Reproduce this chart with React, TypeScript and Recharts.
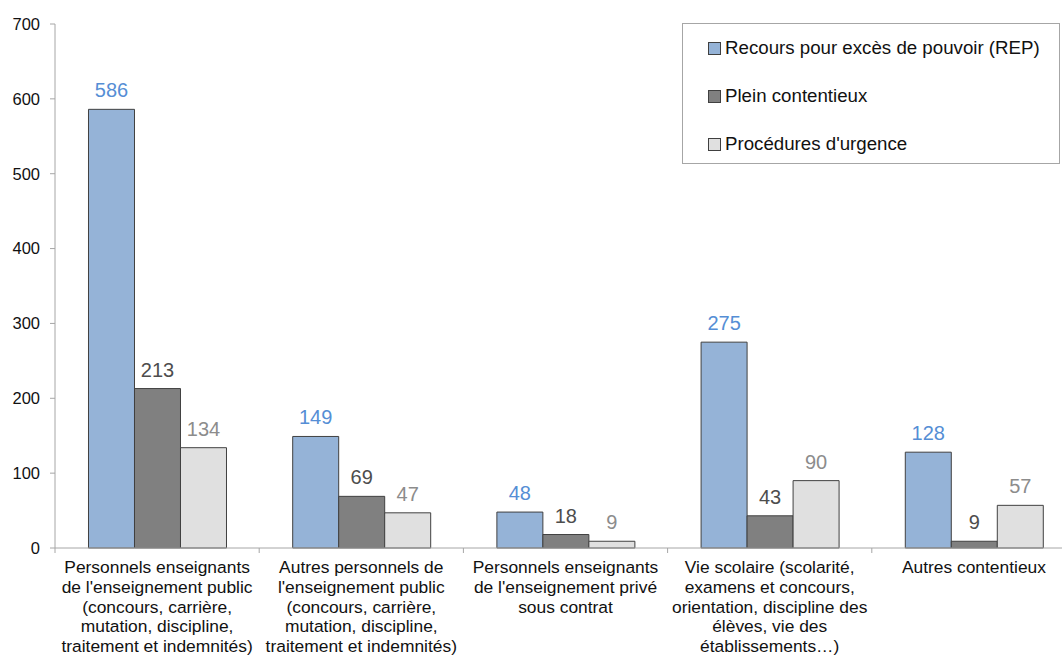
import { Bar, BarChart, LabelList, Legend, XAxis, YAxis } from 'recharts';

const categories = [
  "Personnels enseignants\nde l'enseignement public\n(concours, carrière,\nmutation, discipline,\ntraitement et indemnités)",
  "Autres personnels de\nl'enseignement public\n(concours, carrière,\nmutation, discipline,\ntraitement et indemnités)",
  "Personnels enseignants\nde l'enseignement privé\nsous contrat",
  'Vie scolaire (scolarité,\nexamens et concours,\norientation, discipline des\nélèves, vie des\nétablissements…)',
  'Autres contentieux',
];
const rep = [586, 149, 48, 275, 128];
const plein = [213, 69, 18, 43, 9];
const urgence = [134, 47, 9, 90, 57];
const yTicks = [0, 100, 200, 300, 400, 500, 600, 700];

const series = [
  { key: 'rep', name: 'Recours pour excès de pouvoir (REP)', fill: '#95B3D7', label: '#558ED5' },
  { key: 'plein', name: 'Plein contentieux', fill: '#808080', label: '#4D4D4D' },
  { key: 'urgence', name: "Procédures d'urgence", fill: '#E0E0E0', label: '#8C8C8C' },
];

const data = categories.map((name, i) => ({
  name,
  rep: rep[i],
  plein: plein[i],
  urgence: urgence[i],
}));

const FONT = '"Liberation Sans", Arial, sans-serif';

function CategoryTick(props: any) {
  const { x, y, payload } = props;
  const half = payload.offset ?? 102;
  const lines = String(payload.value).split('\n');
  return (
    <g>
      <line x1={x - half} y1={y} x2={x - half} y2={y + 5} stroke="#A6A6A6" />
      <text textAnchor="middle" fontSize={17.4} fill="#111" fontFamily={FONT}>
        {lines.map((l, i) => (
          <tspan key={i} x={x} y={y + 25 + i * 19.8}>
            {l}
          </tspan>
        ))}
      </text>
    </g>
  );
}

function LegendBox() {
  return (
    <div
      style={{
        width: 376,
        height: 139,
        border: '1px solid #A6A6A6',
        background: '#fff',
        fontFamily: FONT,
        fontSize: 18.7,
        color: '#111',
        position: 'relative',
      }}
    >
      {series.map((s, i) => (
        <div
          key={s.key}
          style={{
            position: 'absolute',
            left: 25,
            top: 13 + i * 48,
            display: 'flex',
            alignItems: 'center',
            whiteSpace: 'nowrap',
          }}
        >
          <span
            style={{
              display: 'inline-block',
              width: 11,
              height: 11,
              background: s.fill,
              border: '1px solid #404040',
              marginRight: 4,
            }}
          />
          {s.name}
        </div>
      ))}
    </div>
  );
}

export default function App() {
  return (
    <div
      style={{
        position: 'fixed',
        left: 0,
        top: 0,
        width: 1062,
        height: 658,
        overflow: 'hidden',
        background: '#fff',
        fontFamily: FONT,
      }}
    >
      <BarChart
        width={1076}
        height={658}
        data={data}
        margin={{ top: 24, right: 0, bottom: 0, left: 0 }}
        barCategoryGap="16.4%"
        barGap={0}
      >
        <XAxis
          dataKey="name"
          height={110}
          interval={0}
          tickLine={false}
          tickSize={0}
          tickMargin={0}
          stroke="#A6A6A6"
          tick={<CategoryTick />}
        />
        <YAxis
          width={55}
          domain={[0, 700]}
          ticks={yTicks}
          tickSize={5}
          tickMargin={10}
          stroke="#A6A6A6"
          tick={{ fill: '#111', fontSize: 16.5, fontFamily: FONT }}
        />
        <Legend
          layout="vertical"
          verticalAlign="middle"
          align="center"
          content={<LegendBox />}
          wrapperStyle={{ position: 'absolute', left: 682, top: 23, width: 378 }}
        />
        {series.map((s) => (
          <Bar
            key={s.key}
            dataKey={s.key}
            name={s.name}
            fill={s.fill}
            stroke="#404040"
            strokeWidth={1}
            isAnimationActive={false}
          >
            <LabelList
              dataKey={s.key}
              position="top"
              offset={12}
              fill={s.label}
              fontSize={20}
              fontFamily={FONT}
            />
          </Bar>
        ))}
      </BarChart>
    </div>
  );
}
